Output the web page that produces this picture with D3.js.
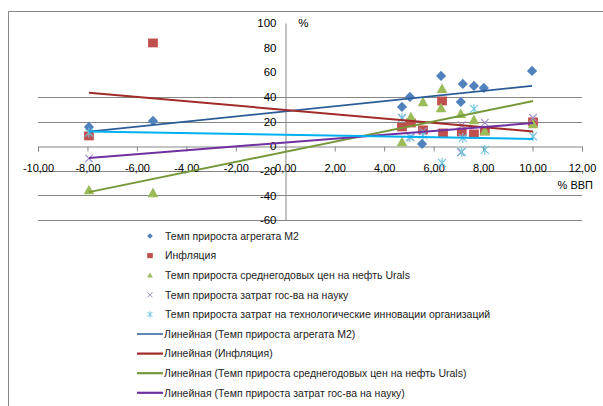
<!DOCTYPE html>
<html>
<head>
<meta charset="utf-8">
<script src="https://cdn.jsdelivr.net/npm/d3@7/dist/d3.min.js"></script>
<style>
  html, body { margin: 0; padding: 0; background: #fff; }
  svg { display: block; font-family: "Liberation Sans", Arial, sans-serif; }
</style>
</head>
<body>
<svg id="chart" width="603" height="406"></svg>
<script>
// Growth rates (%) against GDP growth (% ВВП)
const m2X = [-7.94, -5.35, 4.72, 5.04, 5.53, 6.30, 7.10, 7.18, 7.63, 8.03, 9.98];
const m2Y = [15.6, 20.5, 31.8, 40.0, 1.8, 57.0, 35.9, 50.5, 48.9, 47.3, 61.1];

const inflX = [-7.94, -5.35, 4.72, 5.08, 5.57, 6.34, 6.38, 7.14, 7.63, 8.07, 10.02];
const inflY = [8.3, 83.8, 15.6, 18.8, 13.2, 36.7, 10.7, 11.5, 9.9, 12.3, 19.7];

const uralsX = [-7.94, -5.35, 4.72, 5.08, 5.57, 6.34, 6.30, 7.10, 7.63, 8.07, 10.02];
const uralsY = [-35.6, -38.0, 3.4, 23.7, 35.9, 46.5, 31.0, 26.2, 21.3, 12.3, 18.0];

const scienceX = [-7.94, 4.72, 5.08, 5.57, 7.10, 7.14, 8.07, 10.02];
const scienceY = [-10, 23, 7, 12, -5, 17, 19, 23];

const innovX = [-7.94, 4.72, 5.04, 5.57, 6.34, 7.14, 7.18, 7.63, 8.07, 10.02];
const innovY = [11, 22.8, 7.5, 9.1, -13.6, -4.7, 6.7, 30.2, -3.1, 8];

const seriesNames = [
  "Темп прироста агрегата М2",
  "Инфляция",
  "Темп прироста среднегодовых цен на нефть Urals",
  "Темп прироста затрат гос-ва на науку",
  "Темп прироста затрат на технологические инновации организаций"
];

const xTicks = [-10, -8, -6, -4, -2, 0, 2, 4, 6, 8, 10, 12];
const yTicks = [-60, -40, -20, 0, 20, 40, 60, 80, 100];
const yGrid = [-60, -40, -20, 20, 40];

const svg = d3.select("#chart");

const x = d3.scaleLinear().domain([-10, 12]).range([38, 582]);
const y = d3.scaleLinear().domain([-60, 100]).range([220, 23]);

// outer chart frame
svg.append("path")
  .attr("d", "M8.5,406 L8.5,11.5 L603,11.5")
  .attr("fill", "none").attr("stroke", "#888").attr("stroke-width", 1);

// horizontal gridlines
svg.append("g").selectAll("line").data(yGrid).join("line")
  .attr("x1", x(-10)).attr("x2", x(12))
  .attr("y1", d => Math.round(y(d)) + 0.5).attr("y2", d => Math.round(y(d)) + 0.5)
  .attr("stroke", "#868686").attr("stroke-width", 1);

// x axis through zero
const xAxis = d3.axisBottom(x).tickValues(xTicks).tickSize(5).tickPadding(13)
  .tickFormat(d => d3.format(".2f")(d).replace(".", ",").replace("−", "-"));
const gx = svg.append("g")
  .attr("transform", `translate(0,${Math.round(y(0)) + 0.5})`)
  .call(xAxis);
gx.select(".domain").attr("stroke", "#868686");
gx.selectAll(".tick line").attr("stroke", "#868686");
gx.selectAll(".tick text").attr("fill", "#000").attr("font-size", 11)
  .attr("font-family", "'Liberation Sans', Arial, sans-serif");

// y axis through zero
const yAxis = d3.axisLeft(y).tickValues(yTicks).tickSize(0).tickPadding(9)
  .tickFormat(d => String(d).replace("−", "-"));
const gy = svg.append("g")
  .attr("transform", `translate(${Math.round(x(0)) + 0.5},0)`)
  .call(yAxis);
gy.select(".domain").attr("stroke", "#868686");
gy.selectAll(".tick text").attr("fill", "#000").attr("font-size", 11.5)
  .attr("font-family", "'Liberation Sans', Arial, sans-serif");

// axis titles
svg.append("text").attr("x", x(0) + 13).attr("y", y(100) + 4)
  .attr("font-size", 11.5).attr("fill", "#000").text("%");
svg.append("text").attr("x", 593).attr("y", 189).attr("text-anchor", "end")
  .attr("font-size", 11).attr("fill", "#000").text("% ВВП");

// marker shapes
const markers = {
  diamond: s => `M0,${-s}L${s},0L0,${s}L${-s},0Z`,
  square: s => `M${-s},${-s * 0.9}H${s}V${s * 0.9}H${-s}Z`,
  triangle: s => `M0,${-s}L${s},${s * 0.8}L${-s},${s * 0.8}Z`,
  cross: s => `M${-s},${-s}L${s},${s}M${s},${-s}L${-s},${s}`,
  star: s => `M${-s},${-s}L${s},${s}M${s},${-s}L${-s},${s}M0,${-s * 1.25}L0,${s * 1.25}`
};

const series = [
  { name: seriesNames[0], xs: m2X, ys: m2Y, shape: "diamond", size: 5.1, fill: "#4F81BD", trend: "#2C5C97", tw: 1.8 },
  { name: seriesNames[1], xs: inflX, ys: inflY, shape: "square", size: 4.9, fill: "#C0504D", trend: "#A02B29", tw: 2 },
  { name: seriesNames[2], xs: uralsX, ys: uralsY, shape: "triangle", size: 5.3, fill: "#9BBB59", trend: "#76973A", tw: 2 },
  { name: seriesNames[3], xs: scienceX, ys: scienceY, shape: "cross", size: 3.8, stroke: "#A08FC4", trend: "#7030A0", tw: 2 },
  { name: seriesNames[4], xs: innovX, ys: innovY, shape: "star", size: 4, stroke: "#6FC3DE", trend: "#00B0F0", tw: 2 }
];

// least-squares linear trend over the series' own x range
function linearFit(xs, ys) {
  const n = xs.length;
  const mx = d3.mean(xs), my = d3.mean(ys);
  let sxy = 0, sxx = 0;
  for (let i = 0; i < n; i++) { sxy += (xs[i] - mx) * (ys[i] - my); sxx += (xs[i] - mx) ** 2; }
  const b = sxy / sxx, a = my - b * mx;
  const [x0, x1] = d3.extent(xs);
  return [[x0, a + b * x0], [x1, a + b * x1]];
}

const line = d3.line().x(d => x(d[0])).y(d => y(d[1]));

// points, drawn series by series
series.forEach(s => {
  const g = svg.append("g");
  g.selectAll("path").data(s.xs.map((v, i) => [v, s.ys[i]])).join("path")
    .attr("transform", d => `translate(${x(d[0])},${y(d[1])})`)
    .attr("d", markers[s.shape](s.size))
    .attr("fill", s.fill || "none")
    .attr("stroke", s.stroke || "none")
    .attr("stroke-width", s.stroke ? 1.1 : 0);
});

// trend lines above the points
series.forEach(s => {
  svg.append("path")
    .attr("d", line(linearFit(s.xs, s.ys)))
    .attr("fill", "none").attr("stroke", s.trend).attr("stroke-width", s.tw);
});

// legend: marker rows, then the trend rows that fit in the frame
const legend = svg.append("g");
const rowY0 = 236, rowStep = 19.6;
series.forEach((s, i) => {
  const cy = rowY0 + i * rowStep;
  legend.append("path")
    .attr("transform", `translate(150,${cy})`)
    .attr("d", markers[s.shape](s.shape === "star" || s.shape === "cross" ? 2.5 : 2.8))
    .attr("fill", s.fill || "none")
    .attr("stroke", s.stroke || "none").attr("stroke-width", s.stroke ? 1 : 0);
  legend.append("text").attr("x", 165).attr("y", cy + 3.8)
    .attr("font-size", 10.5).attr("fill", "#222").text(s.name);
});
series.slice(0, 4).forEach((s, i) => {
  const cy = rowY0 + (i + 5) * rowStep;
  legend.append("line")
    .attr("x1", 137).attr("x2", 163).attr("y1", cy).attr("y2", cy)
    .attr("stroke", s.trend).attr("stroke-width", i === 0 ? 1.5 : 2.2);
  legend.append("text").attr("x", 164).attr("y", cy + 3.8)
    .attr("font-size", 10.5).attr("fill", "#222").text(`Линейная (${s.name})`);
});
</script>
</body>
</html>
